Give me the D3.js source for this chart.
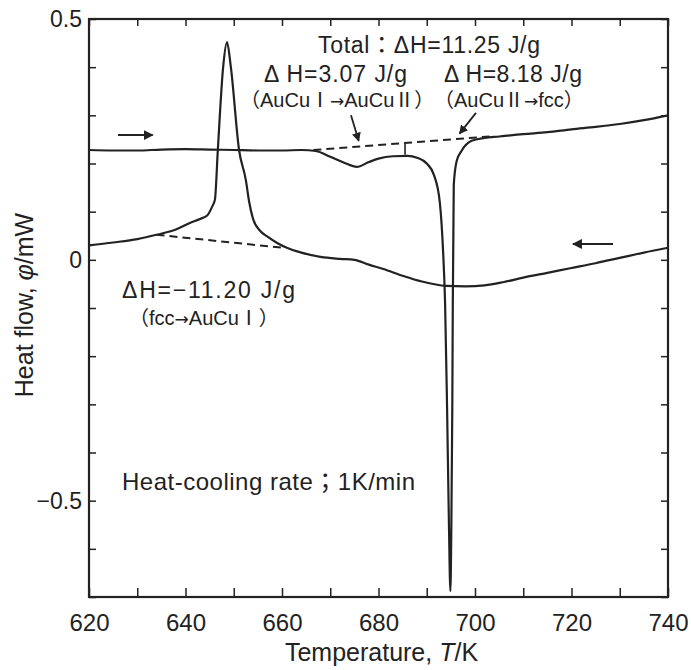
<!DOCTYPE html>
<html>
<head>
<meta charset="utf-8">
<script src="https://cdn.jsdelivr.net/npm/d3@7"></script>
<style>
  body { margin: 0; background: #fff; }
  svg text { font-family: "Liberation Sans", Arial, "Noto Sans CJK JP", sans-serif; fill: #222; }
</style>
</head>
<body>
<div id="chart"></div>
<script>
// heating run (upper trace), temperature in K, heat flow in mW
const heatT = [620, 625, 630, 635, 640, 645, 650, 655, 660, 664, 667, 670, 673, 675.5, 678, 680, 683, 686, 688, 690, 691.5, 692.7, 693.4, 693.8, 694.2, 694.6, 694.9, 695.1, 695.3, 695.4, 695.6, 696.2, 697.2, 699.3, 702, 705, 710, 715, 720, 725, 730, 735, 740];
const heatPhi = [0.228, 0.227, 0.227, 0.229, 0.230, 0.229, 0.228, 0.227, 0.227, 0.228, 0.226, 0.214, 0.201, 0.193, 0.203, 0.210, 0.215, 0.216, 0.212, 0.200, 0.176, 0.120, 0.015, -0.09, -0.30, -0.55, -0.688, -0.55, -0.30, -0.09, 0.156, 0.205, 0.226, 0.247, 0.253, 0.256, 0.261, 0.265, 0.271, 0.276, 0.282, 0.290, 0.300];

// cooling run (lower trace)
const coolT = [620, 625, 630, 634, 638, 641, 643, 644.5, 645.5, 646.1, 646.7, 647.8, 648.6, 649.4, 651.1, 652.5, 653.2, 654, 655.5, 657, 659, 661, 664, 668, 672, 675, 678, 681, 685, 689, 694, 698, 702, 706, 710, 715, 720, 725, 730, 735, 740];
const coolPhi = [0.030, 0.036, 0.043, 0.052, 0.063, 0.077, 0.085, 0.092, 0.110, 0.125, 0.228, 0.400, 0.452, 0.400, 0.228, 0.166, 0.120, 0.085, 0.060, 0.048, 0.035, 0.025, 0.015, 0.006, 0.002, 0.000, -0.010, -0.019, -0.033, -0.045, -0.054, -0.055, -0.053, -0.046, -0.037, -0.027, -0.017, -0.007, 0.004, 0.015, 0.025];

// baselines used for the enthalpy integration
const heatBaseT = [666.5, 703];
const heatBasePhi = [0.228, 0.256];
const coolBaseT = [634, 660.2];
const coolBasePhi = [0.052, 0.025];

const xTicks = [620, 630, 640, 650, 660, 670, 680, 690, 700, 710, 720, 730, 740];
const yTicks = [-0.7, -0.6, -0.5, -0.4, -0.3, -0.2, -0.1, 0, 0.1, 0.2, 0.3, 0.4, 0.5];
const xLabelTicks = [620, 640, 660, 680, 700, 720, 740];
const yLabelTicks = [-0.5, 0, 0.5];

const ink = "#222";
const margin = { top: 19, right: 23, bottom: 73, left: 89 };
const width = 691 - margin.left - margin.right;
const height = 670 - margin.top - margin.bottom;

const root = d3.select("#chart").append("svg")
    .attr("width", 691)
    .attr("height", 670);

root.append("defs").append("marker")
    .attr("id", "head")
    .attr("viewBox", "0 0 10 10")
    .attr("refX", 9)
    .attr("refY", 5)
    .attr("markerWidth", 5)
    .attr("markerHeight", 5)
    .attr("markerUnits", "strokeWidth")
    .attr("orient", "auto")
    .append("path")
    .attr("d", "M0,0 L10,5 L0,10 Z")
    .attr("fill", ink);

const svg = root.append("g")
    .attr("transform", "translate(" + margin.left + "," + margin.top + ")");

const x = d3.scaleLinear().domain([620, 740]).range([0, width]);
const y = d3.scaleLinear().domain([-0.7, 0.5]).range([height, 0]);

function fmtX(d) { return xLabelTicks.indexOf(d) >= 0 ? d : ""; }
function fmtY(d) {
    if (!yLabelTicks.some(function(v) { return Math.abs(v - d) < 1e-9; })) return "";
    return d === 0 ? "0" : d3.format(".1f")(d);
}

// axes with inward ticks on all four sides
svg.append("g")
    .attr("transform", "translate(0," + height + ")")
    .call(d3.axisBottom(x).tickValues(xTicks).tickSizeInner(-9).tickSizeOuter(0).tickPadding(17).tickFormat(fmtX))
    .style("font-size", "24px");
svg.append("g")
    .call(d3.axisTop(x).tickValues(xTicks).tickSizeInner(-7).tickSizeOuter(0).tickFormat(""));
svg.append("g")
    .call(d3.axisLeft(y).tickValues(yTicks).tickSizeInner(-7).tickSizeOuter(0).tickPadding(7).tickFormat(fmtY))
    .style("font-size", "23px");
svg.append("g")
    .attr("transform", "translate(" + width + ",0)")
    .call(d3.axisRight(y).tickValues(yTicks).tickSizeInner(-7).tickSizeOuter(0).tickFormat(""));

svg.selectAll(".domain").remove();
svg.selectAll(".tick line").attr("stroke", ink).attr("stroke-width", 1.5);
svg.selectAll(".tick text").attr("fill", ink).style("font-family", "'Liberation Sans', Arial, sans-serif");

svg.append("rect")
    .attr("width", width)
    .attr("height", height)
    .attr("fill", "none")
    .attr("stroke", ink)
    .attr("stroke-width", 2.2);

const line = d3.line()
    .x(function(d) { return x(d[0]); })
    .y(function(d) { return y(d[1]); })
    .curve(d3.curveMonotoneX);

svg.append("path")
    .datum(d3.zip(heatT, heatPhi))
    .attr("d", line)
    .attr("fill", "none")
    .attr("stroke", ink)
    .attr("stroke-width", 2.2);

svg.append("path")
    .datum(d3.zip(coolT, coolPhi))
    .attr("d", line)
    .attr("fill", "none")
    .attr("stroke", ink)
    .attr("stroke-width", 2.2);

const straight = d3.line()
    .x(function(d) { return x(d[0]); })
    .y(function(d) { return y(d[1]); });

[d3.zip(heatBaseT, heatBasePhi), d3.zip(coolBaseT, coolBasePhi)].forEach(function(b) {
    svg.append("path")
        .datum(b)
        .attr("d", straight)
        .attr("fill", "none")
        .attr("stroke", ink)
        .attr("stroke-width", 2)
        .attr("stroke-dasharray", "8,5");
});

// split mark between the two heating peaks
svg.append("line")
    .attr("x1", x(685.5)).attr("x2", x(685.5))
    .attr("y1", y(0.242)).attr("y2", y(0.218))
    .attr("stroke", ink)
    .attr("stroke-width", 1.6);

function arrow(t1, p1, t2, p2, w) {
    svg.append("line")
        .attr("x1", x(t1)).attr("y1", y(p1))
        .attr("x2", x(t2)).attr("y2", y(p2))
        .attr("stroke", ink)
        .attr("stroke-width", w)
        .attr("marker-end", "url(#head)");
}
arrow(674.3, 0.300, 675.9, 0.247, 1.8);
arrow(700.2, 0.305, 696.8, 0.262, 1.8);
arrow(626, 0.259, 633.2, 0.259, 2);
arrow(728.6, 0.033, 720.3, 0.033, 2);

// text notes; w = width measured on the figure (null keeps the natural width)
function note(px, py, str, size, w) {
    let t = svg.append("text")
        .attr("x", px - margin.left)
        .attr("y", py - margin.top)
        .style("font-size", size + "px");
    if (w) t.attr("textLength", w).attr("lengthAdjust", "spacing");
    str.split("→").forEach(function(part, i) {
        if (i > 0) t.append("tspan").style("font-family", "'DejaVu Sans'").style("font-size", "17px").text("→");
        t.append("tspan").text(part);
    });
}
note(318, 53, "Total：ΔH=11.25 J/g", 23, 222);
note(264, 82, "Δ H=3.07 J/g", 23, 143);
note(240, 107, "（AuCuⅠ→AuCuⅡ）", 20, null);
note(444, 82, "Δ H=8.18 J/g", 23, 138);
note(434, 107, "（AuCuⅡ→fcc）", 20, null);
note(122, 298, "ΔH=−11.20 J/g", 23, 173);
note(129, 325, "（fcc→AuCuⅠ）", 20, null);
note(122, 490, "Heat-cooling rate；1K/min", 24, 293);

// axis titles
const xt = root.append("text")
    .attr("x", margin.left + width / 2 + 3)
    .attr("y", 661)
    .attr("text-anchor", "middle")
    .style("font-size", "25px");
xt.append("tspan").text("Temperature, ");
xt.append("tspan").style("font-style", "italic").text("T");
xt.append("tspan").text("/K");

const yt = root.append("text")
    .attr("transform", "translate(33,305) rotate(-90)")
    .attr("text-anchor", "middle")
    .style("font-size", "25px");
yt.append("tspan").text("Heat flow, ");
yt.append("tspan").style("font-style", "italic").text("φ");
yt.append("tspan").text("/mW");
</script>
</body>
</html>
